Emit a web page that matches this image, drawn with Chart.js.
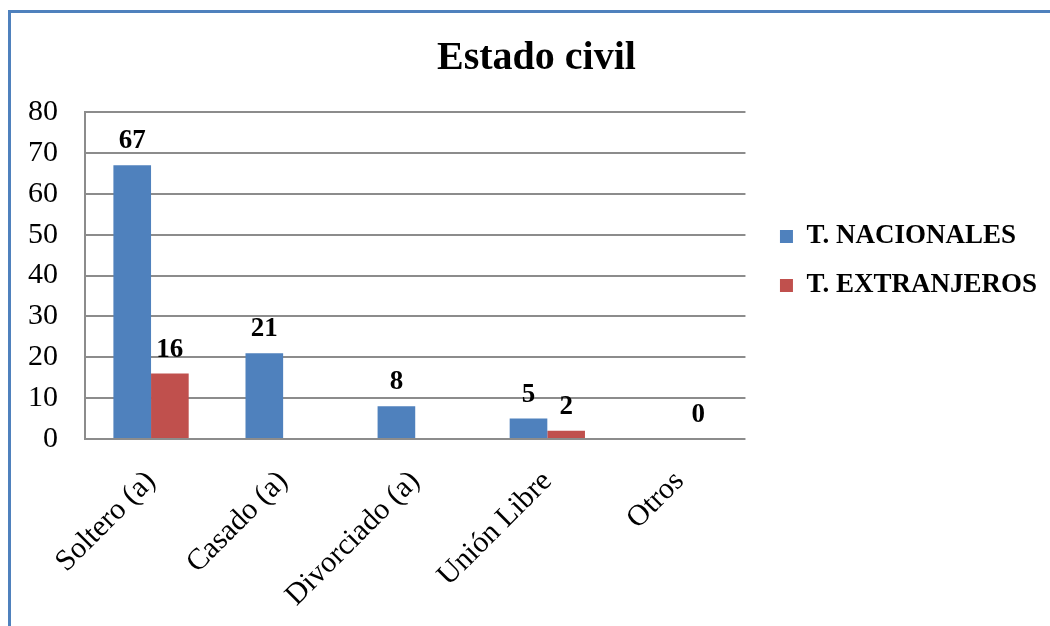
<!DOCTYPE html>
<html>
<head>
<meta charset="utf-8">
<script src="https://cdn.jsdelivr.net/npm/chart.js@4/dist/chart.umd.min.js"></script>
<style>
  html, body { margin: 0; padding: 0; background: #ffffff; }
  #wrap { position: relative; width: 1050px; height: 626px; }
</style>
</head>
<body>
<div id="wrap"><canvas id="c" width="1050" height="626"></canvas></div>
<script>
const categories = ['Soltero (a)', 'Casado (a)', 'Divorciado (a)', 'Unión Libre', 'Otros'];
const nacionales = [67, 21, 8, 5, null];
const extranjeros = [16, null, null, 2, 0];
const seriesNames = ['T. NACIONALES', 'T. EXTRANJEROS'];
const yTicks = [0, 10, 20, 30, 40, 50, 60, 70, 80];

const SERIF = '"Liberation Serif", "Times New Roman", serif';

const frame = {
  id: 'frame',
  beforeDraw(chart) {
    const ctx = chart.ctx;
    ctx.save();
    ctx.fillStyle = '#ffffff';
    ctx.fillRect(0, 0, chart.width, chart.height);
    ctx.strokeStyle = '#4f81bd';
    ctx.lineWidth = 3;
    ctx.beginPath();
    ctx.moveTo(9.5, chart.height + 5);
    ctx.lineTo(9.5, 11.5);
    ctx.lineTo(chart.width + 5, 11.5);
    ctx.stroke();
    ctx.restore();
  }
};

const valueLabels = {
  id: 'valueLabels',
  afterDatasetsDraw(chart) {
    const ctx = chart.ctx;
    ctx.save();
    ctx.font = 'bold 27px ' + SERIF;
    ctx.fillStyle = '#000000';
    ctx.textAlign = 'center';
    ctx.textBaseline = 'alphabetic';
    chart.data.datasets.forEach((ds, i) => {
      const meta = chart.getDatasetMeta(i);
      meta.data.forEach((el, j) => {
        const v = ds.data[j];
        if (v === null || v === undefined) return;
        ctx.fillText(String(v), el.x, el.y - 17);
      });
    });
    ctx.restore();
  }
};

new Chart(document.getElementById('c'), {
  type: 'bar',
  data: {
    labels: categories,
    datasets: [
      { label: seriesNames[0], data: nacionales, backgroundColor: '#4f81bd', borderWidth: 0,
        categoryPercentage: 0.57, barPercentage: 1.0 },
      { label: seriesNames[1], data: extranjeros, backgroundColor: '#c0504d', borderWidth: 0,
        categoryPercentage: 0.57, barPercentage: 1.0 }
    ]
  },
  options: {
    responsive: false,
    animation: false,
    devicePixelRatio: 1,
    layout: { padding: { left: 26, right: 3, top: -95, bottom: 9 } },
    plugins: {
      title: {
        display: true,
        text: 'Estado civil',
        color: '#000000',
        font: { family: SERIF, size: 40, weight: 'bold', lineHeight: 1.2 },
        padding: { top: 130, bottom: 29 }
      },
      legend: {
        display: true,
        position: 'right',
        align: 'center',
        maxWidth: 400,
        labels: {
          color: '#000000',
          font: { family: SERIF, size: 27, weight: 'bold' },
          boxWidth: 13,
          boxHeight: 13,
          padding: 22
        }
      },
      tooltip: { enabled: false }
    },
    scales: {
      x: {
        grid: { display: false, drawTicks: false },
        border: { display: false },
        ticks: {
          color: '#000000',
          font: { family: SERIF, size: 30 },
          maxRotation: 45,
          minRotation: 45,
          padding: 25,
          autoSkip: false
        },
        afterFit: (s) => { s.height = 178; }
      },
      y: {
        min: 0,
        max: 80,
        afterBuildTicks: (s) => { s.ticks = yTicks.map(v => ({ value: v })); },
        grid: { color: '#8c8c8c', lineWidth: 2, drawTicks: false },
        border: { display: true, color: '#8c8c8c', width: 2 },
        ticks: {
          color: '#000000',
          font: { family: SERIF, size: 30 },
          padding: 27
        },
        afterFit: (s) => { s.width = 59; }
      },
      gap: {
        position: 'right',
        display: true,
        grid: { display: false, drawTicks: false },
        border: { display: false },
        ticks: { display: false },
        afterFit: (s) => { s.width = 12.5; }
      }
    }
  },
  plugins: [frame, valueLabels]
});
</script>
</body>
</html>
